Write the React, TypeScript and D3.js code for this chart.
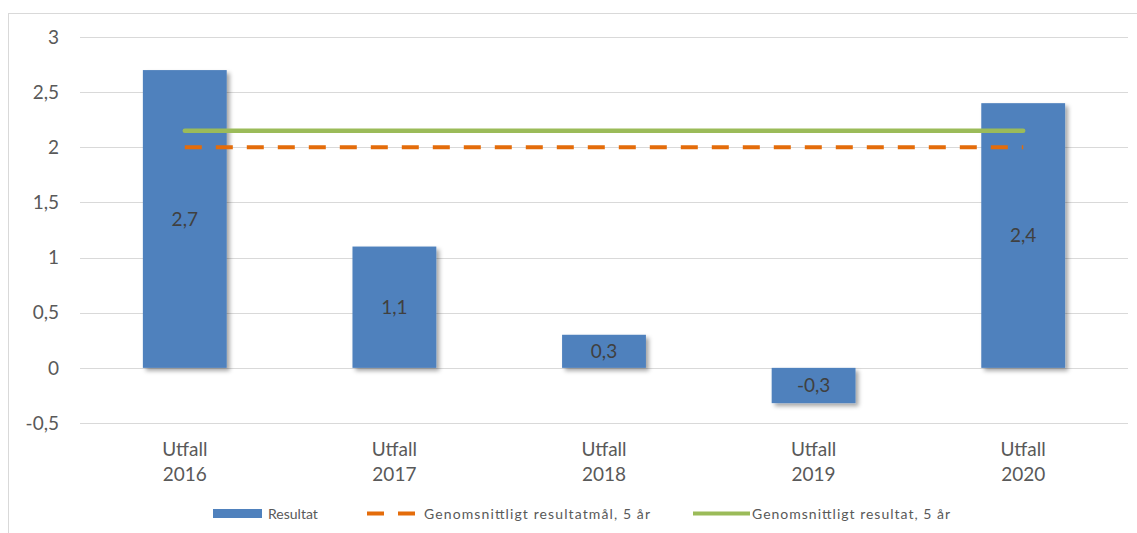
import React from "react";
import * as d3 from "d3";

const categories = ["Utfall 2016", "Utfall 2017", "Utfall 2018", "Utfall 2019", "Utfall 2020"];
const resultat = [2.7, 1.1, 0.3, -0.32, 2.4];
const labels = ["2,7", "1,1", "0,3", "-0,3", "2,4"];
const targetAvg = 2.0;
const resultAvg = 2.15;
const yTicks = [3, 2.5, 2, 1.5, 1, 0.5, 0, -0.5];
const legendNames = ["Resultat", "Genomsnittligt resultatmål, 5 år", "Genomsnittligt resultat, 5 år"];

const W = 1137;
const H = 533;
const left = 80;
const right = 1128;

export default function App() {
  const x = d3.scaleBand<string>().domain(categories).range([left, right]).paddingInner(0.6).paddingOuter(0.3);
  const y = d3.scaleLinear().domain([-0.5, 3]).range([423, 37]);
  const fmt = (v: number) => String(v).replace(".", ",");
  const font = "Lato, 'Open Sans', sans-serif";
  const c0 = (x(categories[0]) as number) + x.bandwidth() / 2;
  const c4 = (x(categories[4]) as number) + x.bandwidth() / 2;
  const lineGen = d3.line<[number, number]>().x((d) => d[0]).y((d) => d[1]);

  return (
    <svg width={W} height={H} style={{ position: "absolute", left: 0, top: 0, background: "#fff" }}>
      <defs>
        <filter id="sh" x="-20%" y="-20%" width="150%" height="150%">
          <feDropShadow dx="3" dy="3" stdDeviation="2" floodColor="#000" floodOpacity="0.35" />
        </filter>
      </defs>
      <rect x={8.5} y={13.5} width={1140} height={540} fill="#fff" stroke="#D9D9D9" />
      {yTicks.map((t) => (
        <g key={t}>
          <line x1={left} x2={right} y1={Math.round(y(t)) + 0.5} y2={Math.round(y(t)) + 0.5} stroke="#D9D9D9" strokeWidth={1} />
          <text x={59} y={y(t)} dy="0.35em" textAnchor="end" fontFamily={font} fontSize={19} fill="#595959">
            {fmt(t)}
          </text>
        </g>
      ))}
      {resultat.map((v, i) => {
        const bx = x(categories[i]) as number;
        const y0 = y(Math.max(0, v));
        const y1 = y(Math.min(0, v));
        return (
          <rect key={i} x={bx} y={y0} width={x.bandwidth()} height={y1 - y0} fill="#4F81BD" filter="url(#sh)" />
        );
      })}
      <path
        d={lineGen([[c0, y(targetAvg)], [c4, y(targetAvg)]]) || ""}
        stroke="#E46C0A"
        strokeWidth={4}
        strokeDasharray="17 14"
        fill="none"
      />
      <path
        d={lineGen([[c0, y(resultAvg)], [c4, y(resultAvg)]]) || ""}
        stroke="#9BBB59"
        strokeWidth={4.5}
        strokeLinecap="round"
        fill="none"
      />
      {resultat.map((v, i) => {
        const cx = (x(categories[i]) as number) + x.bandwidth() / 2;
        const cy = (y(v) + y(0)) / 2;
        return (
          <text key={i} x={cx} y={cy} dy="0.35em" textAnchor="middle" fontFamily={font} fontSize={19} fill="#404040">
            {labels[i]}
          </text>
        );
      })}
      {categories.map((c) => {
        const cx = (x(c) as number) + x.bandwidth() / 2;
        const [a, b] = c.split(" ");
        return (
          <text key={c} textAnchor="middle" fontFamily={font} fontSize={19} fill="#595959">
            <tspan x={cx} y={456}>{a}</tspan>
            <tspan x={cx} y={481}>{b}</tspan>
          </text>
        );
      })}
      <g fontFamily={font} fontSize={14} fill="#595959">
        <rect x={213} y={509} width={49} height={9} fill="#4F81BD" />
        <text x={268} y={519}>{legendNames[0]}</text>
        <line x1={367} x2={415} y1={513.5} y2={513.5} stroke="#E46C0A" strokeWidth={4} strokeDasharray="17 14" />
        <text x={424} y={519} textLength={226}>{legendNames[1]}</text>
        <line x1={693} x2={750} y1={513.5} y2={513.5} stroke="#9BBB59" strokeWidth={4} />
        <text x={752} y={519} textLength={198}>{legendNames[2]}</text>
      </g>
    </svg>
  );
}
